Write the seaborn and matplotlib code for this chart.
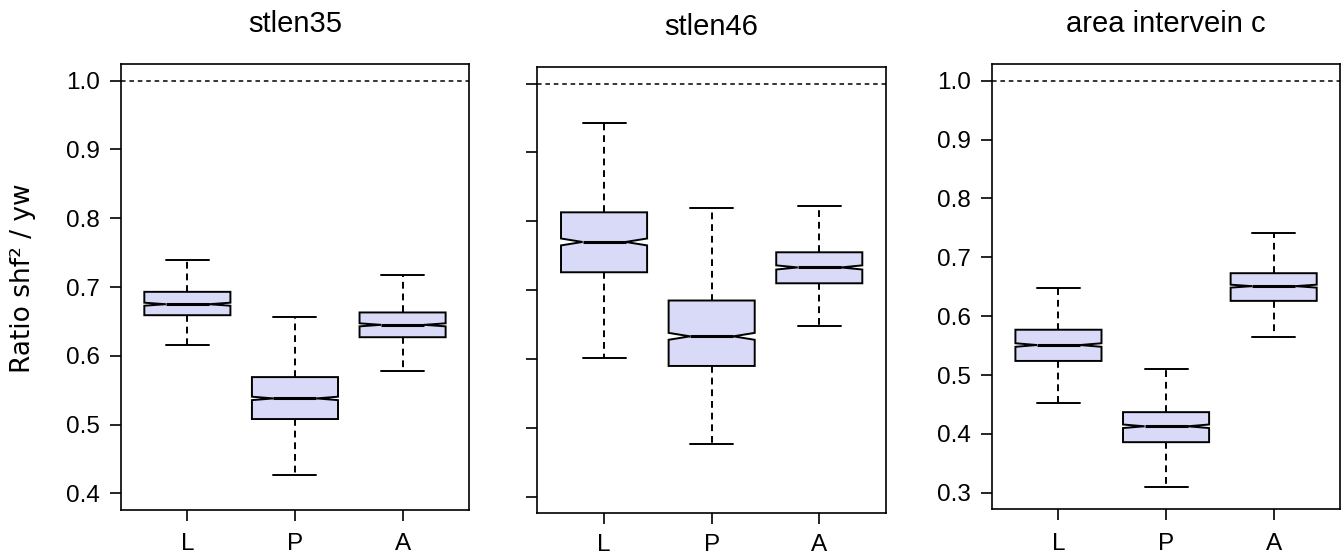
import numpy as np
import pandas as pd
import matplotlib
matplotlib.use("Agg")
import matplotlib.pyplot as plt
from matplotlib.path import Path
import seaborn as sns

groups = ["L", "P", "A"]

# five-number summaries: low whisker, q1, median, q3, high whisker
stlen35_L = [0.616, 0.659, 0.675, 0.693, 0.740]
stlen35_P = [0.426, 0.508, 0.538, 0.569, 0.656]
stlen35_A = [0.578, 0.627, 0.645, 0.663, 0.718]

stlen46_L = [0.602, 0.726, 0.770, 0.813, 0.943]
stlen46_P = [0.476, 0.590, 0.633, 0.685, 0.820]
stlen46_A = [0.648, 0.710, 0.733, 0.755, 0.822]

area_L = [0.452, 0.524, 0.551, 0.577, 0.648]
area_P = [0.310, 0.386, 0.413, 0.437, 0.510]
area_A = [0.565, 0.626, 0.651, 0.673, 0.742]

# notch half heights (median +/- ci)
stlen35_notch = [0.0022, 0.0025, 0.0022]
stlen46_notch = [0.005, 0.005, 0.003]
area_notch = [0.003, 0.003, 0.0025]

titles = ["stlen35", "stlen46", "area intervein c"]
yticks_a = [0.4, 0.5, 0.6, 0.7, 0.8, 0.9, 1.0]
yticks_b = [0.3, 0.4, 0.5, 0.6, 0.7, 0.8, 0.9, 1.0]
ylabel = "Ratio shf\u00b2 / yw"

panels = [
    (titles[0], [stlen35_L, stlen35_P, stlen35_A], stlen35_notch, yticks_a, (0.376, 1.024), True, 9),
    (titles[1], [stlen46_L, stlen46_P, stlen46_A], stlen46_notch, yticks_a, (0.376, 1.024), False, 7),
    (titles[2], [area_L, area_P, area_A], area_notch, yticks_b, (0.272, 1.028), True, 9),
]
ax_pos = [
    [0.0899, 0.0880, 0.2598, 0.7971],
    [0.4004, 0.0816, 0.2598, 0.7986],
    [0.7390, 0.0889, 0.2598, 0.7963],
]

sns.set_theme(style="ticks")
plt.rcParams['font.family'] = ['Liberation Sans', 'DejaVu Sans']
plt.rcParams['text.color'] = 'black'

fill = "#D9D9F8"
fig = plt.figure(figsize=(13.42, 5.59), dpi=100)

for (title, vals, notch, yt, ylim, show_lbl, xpad), pos in zip(panels, ax_pos):
    ax = fig.add_axes(pos)
    df = pd.DataFrame({"group": np.repeat(groups, 5), "ratio": np.concatenate(vals)})
    sns.boxplot(data=df, x="group", y="ratio", order=groups, ax=ax,
                whis=(0, 100), color=fill, saturation=1, linecolor="black",
                linewidth=1.4, width=0.8, notch=True, capwidths=0.4, fliersize=0,
                medianprops=dict(linewidth=2.2),
                whiskerprops=dict(linestyle=(0, (3.5, 2.5))))
    # shrink the notches to the ci
    for patch, v, h in zip(ax.patches, vals, notch):
        p = patch.get_path()
        verts = p.vertices.copy()
        med = v[2]
        verts[[2, 9], 1] = med - h
        verts[[4, 7], 1] = med + h
        patch.set_path(Path(verts, p.codes))

    ax.axhline(1.0, color="black", lw=1.1, ls=(0, (3, 2.5)), zorder=0)
    ax.set_xlim(-0.62, 2.62)
    ax.set_ylim(*ylim)
    ax.set_yticks(yt, labels=[f"{t:.1f}" for t in yt])
    ax.set_xlabel("")
    ax.set_ylabel("")
    ax.set_title(title, fontsize=21, pad=23, color="black")
    ax.tick_params(axis="both", direction="out", length=8, width=1.2,
                   labelsize=17.5, color="black", labelcolor="black")
    ax.tick_params(axis="y", pad=7, labelleft=show_lbl)
    ax.tick_params(axis="x", pad=xpad)
    for sp in ax.spines.values():
        sp.set_linewidth(1.2)
        sp.set_color("black")

fig.text(22.7 / 1342, 1 - 278 / 559, ylabel, rotation=90, ha="center", va="center",
         fontsize=19, color="black", family=["DejaVu Sans"])

fig.savefig("out.png", dpi=100, facecolor="white")
